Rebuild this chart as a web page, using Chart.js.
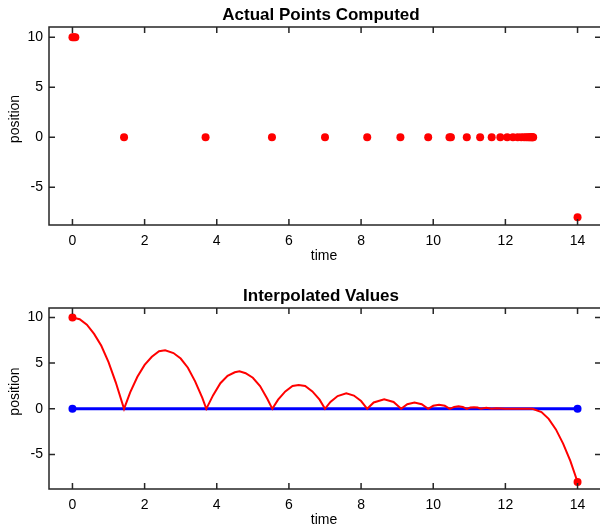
<!DOCTYPE html>
<html>
<head>
<meta charset="utf-8">
<script src="https://cdn.jsdelivr.net/npm/chart.js@4/dist/chart.umd.min.js"></script>
<style>
  html, body { margin: 0; padding: 0; background: #fff; overflow: hidden; width: 600px; height: 531px; }
  .box { position: absolute; left: 0; }
</style>
</head>
<body>
<div class="box" style="top:0"><canvas id="chart_computed" width="615" height="265"></canvas></div>
<div class="box" style="top:265px"><canvas id="chart_interp" width="615" height="266"></canvas></div>
<script>
// axis setup
const xMin = -0.65, xMax = 14.65;
const yMin = -8.77, yMax = 11.03;
const xTicks = [0, 2, 4, 6, 8, 10, 12, 14];
const yTicks = [-5, 0, 5, 10];

// top plot: points the solver actually returned
const computedT = [0, 0.04, 0.08, 1.43, 3.69, 5.53, 7.0, 8.17, 9.09, 9.86, 10.45, 10.49,
  10.93, 11.3, 11.62, 11.86, 12.05, 12.21, 12.34, 12.44, 12.52, 12.58, 12.63, 12.67,
  12.7, 12.73, 12.75, 12.77, 14];
const computedY = [10, 10, 10, 0, 0, 0, 0, 0, 0, 0, 0, 0,
  0, 0, 0, 0, 0, 0, 0, 0, 0, 0, 0, 0,
  0, 0, 0, 0, -8];

// bottom plot: interpolated position
const interpT = [0, 0.2, 0.4, 0.6, 0.8, 1.0, 1.2, 1.43,
  1.6, 1.8, 2.0, 2.2, 2.4, 2.57, 2.8, 3.0, 3.2, 3.4, 3.6, 3.71,
  3.9, 4.1, 4.3, 4.5, 4.63, 4.8, 5.0, 5.2, 5.4, 5.54,
  5.7, 5.9, 6.1, 6.27, 6.45, 6.65, 6.85, 7.0,
  7.15, 7.35, 7.59, 7.8, 8.0, 8.17,
  8.35, 8.64, 8.9, 9.11,
  9.28, 9.48, 9.68, 9.86,
  10.0, 10.16, 10.32, 10.46,
  10.58, 10.7, 10.82, 10.93,
  11.03, 11.13, 11.23, 11.32,
  11.47, 11.62, 11.75, 12.0, 12.3, 12.6, 12.75,
  13.0, 13.2, 13.4, 13.6, 13.8, 14];
const interpY = [10, 9.8, 9.2, 8.2, 6.9, 5.1, 2.9, 0,
  1.8, 3.5, 4.8, 5.7, 6.3, 6.4, 6.1, 5.5, 4.5, 3.0, 1.2, 0,
  1.5, 2.8, 3.6, 4.0, 4.1, 3.9, 3.4, 2.5, 1.1, 0,
  1.0, 1.9, 2.5, 2.6, 2.5, 1.9, 1.0, 0,
  0.75, 1.4, 1.7, 1.45, 0.85, 0,
  0.7, 1.05, 0.75, 0,
  0.5, 0.7, 0.5, 0,
  0.33, 0.44, 0.33, 0,
  0.21, 0.28, 0.21, 0,
  0.14, 0.18, 0.14, 0,
  0.11, 0, 0.05, 0, 0, 0, 0,
  -0.35, -1.1, -2.25, -3.8, -5.7, -8];
const endT = [0, 14];
const endY = [10, -8];
const floorT = [0, 14];
const floorY = [0, 0];

const FONT = '"Liberation Sans", Arial, sans-serif';
Chart.defaults.font.family = FONT;
Chart.defaults.color = "#000";

function toPoints(xs, ys) {
  return xs.map((x, i) => ({ x: x, y: ys[i] }));
}

// frame with inward ticks on all four sides + title and axis labels
const framePlugin = {
  id: "frame",
  afterDraw(chart, args, opts) {
    const ctx = chart.ctx;
    const a = chart.chartArea;
    const sx = chart.scales.x;
    const sy = chart.scales.y;
    ctx.save();
    ctx.strokeStyle = "#262626";
    ctx.lineWidth = 1.5;
    ctx.strokeRect(a.left, a.top, a.right - a.left, a.bottom - a.top);
    ctx.beginPath();
    xTicks.forEach((v) => {
      const px = sx.getPixelForValue(v);
      ctx.moveTo(px, a.bottom);
      ctx.lineTo(px, a.bottom - 6);
      ctx.moveTo(px, a.top);
      ctx.lineTo(px, a.top + 6);
    });
    yTicks.forEach((v) => {
      const py = sy.getPixelForValue(v);
      ctx.moveTo(a.left, py);
      ctx.lineTo(a.left + 6, py);
      ctx.moveTo(a.right, py);
      ctx.lineTo(a.right - 6, py);
    });
    ctx.stroke();

    const cx = (a.left + a.right) / 2;
    ctx.fillStyle = "#000";
    ctx.textAlign = "center";
    ctx.textBaseline = "middle";
    ctx.font = "bold 17px " + FONT;
    ctx.fillText(opts.title, cx - 4, a.top - 12);
    ctx.font = "14px " + FONT;
    ctx.fillText("time", cx - 1, a.bottom + 31);
    ctx.translate(15, (a.top + a.bottom) / 2 - 7);
    ctx.rotate(-Math.PI / 2);
    ctx.fillText("position", 0, 0);
    ctx.restore();
  },
};

function makeOptions(title, padTop, xAxisHeight) {
  return {
    responsive: false,
    animation: false,
    layout: { padding: { top: padTop, right: 14, left: 0, bottom: 0 } },
    scales: {
      x: {
        type: "linear",
        min: xMin,
        max: xMax,
        grid: { display: false, drawTicks: false },
        border: { display: false },
        ticks: { padding: 8, autoSkip: false, maxRotation: 0, font: { size: 14 }, color: "#000" },
        afterBuildTicks: (s) => { s.ticks = xTicks.map((v) => ({ value: v })); },
        afterFit: (s) => { s.height = xAxisHeight; },
      },
      y: {
        type: "linear",
        min: yMin,
        max: yMax,
        grid: { display: false, drawTicks: false },
        border: { display: false },
        ticks: { padding: 6, autoSkip: false, font: { size: 14 }, color: "#000" },
        afterBuildTicks: (s) => { s.ticks = yTicks.map((v) => ({ value: v })); },
        afterFit: (s) => { s.width = 49; },
      },
    },
    plugins: {
      legend: { display: false },
      tooltip: { enabled: false },
      title: { display: false },
      frame: { title: title },
    },
  };
}

const ctx1 = document.getElementById("chart_computed").getContext("2d");
new Chart(ctx1, {
  type: "scatter",
  data: {
    datasets: [
      {
        data: toPoints(computedT, computedY),
        pointRadius: 4,
        pointBackgroundColor: "#ff0000",
        pointBorderWidth: 0,
      },
    ],
  },
  options: makeOptions("Actual Points Computed", 27, 40),
  plugins: [framePlugin],
});

const ctx2 = document.getElementById("chart_interp").getContext("2d");
new Chart(ctx2, {
  type: "scatter",
  data: {
    datasets: [
      {
        data: toPoints(endT, endY),
        pointRadius: 4,
        pointBackgroundColor: "#ff0000",
        pointBorderWidth: 0,
        order: 0,
      },
      {
        data: toPoints(interpT, interpY),
        showLine: true,
        borderColor: "#ff0000",
        borderWidth: 2,
        pointRadius: 0,
        order: 1,
      },
      {
        data: toPoints(floorT, floorY),
        showLine: true,
        borderColor: "#0000ff",
        borderWidth: 3,
        pointRadius: 4,
        pointBackgroundColor: "#0000ff",
        pointBorderWidth: 0,
        order: 2,
      },
    ],
  },
  options: makeOptions("Interpolated Values", 43, 42),
  plugins: [framePlugin],
});
</script>
</body>
</html>
